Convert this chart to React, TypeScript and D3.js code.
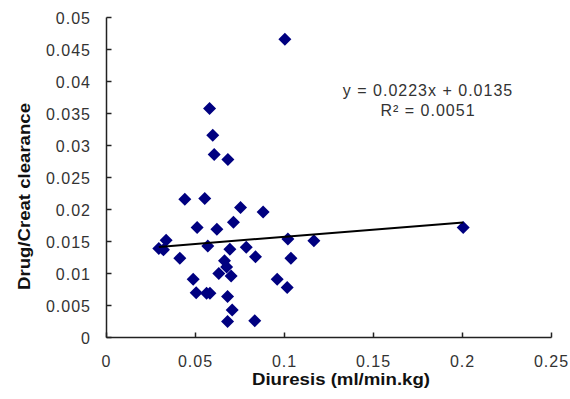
import React from "react";
import * as d3 from "d3";

const diuresis = [
  0.1002, 0.0579, 0.0597, 0.0605, 0.0682, 0.044, 0.0552, 0.0753, 0.088, 0.0509,
  0.062, 0.0713, 0.0335, 0.0294, 0.032, 0.0569, 0.0693, 0.0785, 0.1019, 0.0412,
  0.0837, 0.1036, 0.0663, 0.0675, 0.0631, 0.07, 0.0487, 0.0959, 0.1015, 0.0504,
  0.0562, 0.0581, 0.068, 0.0706, 0.068, 0.0833, 0.1165, 0.2004,
];
const clearance = [
  0.0466, 0.0358, 0.0316, 0.0286, 0.0278, 0.0216, 0.0217, 0.0203, 0.0196, 0.0172,
  0.0169, 0.018, 0.0152, 0.0139, 0.0137, 0.0143, 0.0138, 0.0141, 0.0154, 0.0124,
  0.0126, 0.0124, 0.012, 0.011, 0.01, 0.0096, 0.0091, 0.0091, 0.0078, 0.007,
  0.0069, 0.0069, 0.0064, 0.0043, 0.0025, 0.0026, 0.0151, 0.0172,
];
const xTicks = [0, 0.05, 0.1, 0.15, 0.2, 0.25];
const yTicks = [0, 0.005, 0.01, 0.015, 0.02, 0.025, 0.03, 0.035, 0.04, 0.045, 0.05];
const slope = 0.0223;
const intercept = 0.0135;
const equationText = "y = 0.0223x + 0.0135";
const r2Text = "R² = 0.0051";

export default function App() {
  const W = 570, H = 399;
  const x = d3.scaleLinear().domain([0, 0.25]).range([106.5, 551.5]);
  const y = d3.scaleLinear().domain([0, 0.05]).range([337.5, 17.5]);
  const fmt = (v: number) => (v === 0 ? "0" : String(+v.toFixed(3)));
  const xmin = d3.min(diuresis) as number;
  const xmax = d3.max(diuresis) as number;
  const line = d3.line<number>().x((d) => x(d)).y((d) => y(slope * d + intercept));
  const diamond = (cx: number, cy: number) => {
    const r = 6.5;
    return `M${cx},${cy - r}L${cx + r},${cy}L${cx},${cy + r}L${cx - r},${cy}Z`;
  };
  const font = "'Liberation Sans', Arial, sans-serif";
  return (
    <svg width={W} height={H} style={{ position: "absolute", left: 0, top: 0, background: "#fff" }}>
      <g fontFamily={font} fill="#333">
        <line x1={x(0)} x2={x(0.25)} y1={y(0)} y2={y(0)} stroke="#222" strokeWidth={1.5} />
        <line x1={x(0)} x2={x(0)} y1={y(0)} y2={y(0.05)} stroke="#222" strokeWidth={1.5} />
        {xTicks.map((t) => (
          <g key={"x" + t}>
            <line x1={x(t)} x2={x(t)} y1={y(0)} y2={y(0) - 5} stroke="#222" strokeWidth={1.5} />
            <text x={x(t)} y={367} textAnchor="middle" fontSize={16} letterSpacing={1}>
              {fmt(t)}
            </text>
          </g>
        ))}
        {yTicks.map((t) => (
          <g key={"y" + t}>
            <line x1={x(0)} x2={x(0) + 5} y1={y(t)} y2={y(t)} stroke="#222" strokeWidth={1.5} />
            <text x={91} y={y(t) + 6} textAnchor="end" fontSize={16} letterSpacing={1}>
              {fmt(t)}
            </text>
          </g>
        ))}
        <text
          x={341}
          y={385}
          textAnchor="middle"
          fontSize={17}
          fontWeight="bold"
          fill="#111"
          textLength={178}
          lengthAdjust="spacingAndGlyphs"
        >
          Diuresis (ml/min.kg)
        </text>
        <text
          transform={`translate(30,196.5) rotate(-90)`}
          textAnchor="middle"
          fontSize={17}
          fontWeight="bold"
          fill="#111"
          textLength={187}
          lengthAdjust="spacingAndGlyphs"
        >
          Drug/Creat clearance
        </text>
        {diuresis.map((d, i) => (
          <path key={i} d={diamond(x(d), y(clearance[i]))} fill="#000080" />
        ))}
        <path d={line([xmin, xmax]) || ""} stroke="#000" strokeWidth={2} fill="none" />
        <text x={428} y={96} textAnchor="middle" fontSize={16} letterSpacing={1}>
          {equationText}
        </text>
        <text x={428} y={115.5} textAnchor="middle" fontSize={16} letterSpacing={1}>
          {r2Text}
        </text>
      </g>
    </svg>
  );
}
